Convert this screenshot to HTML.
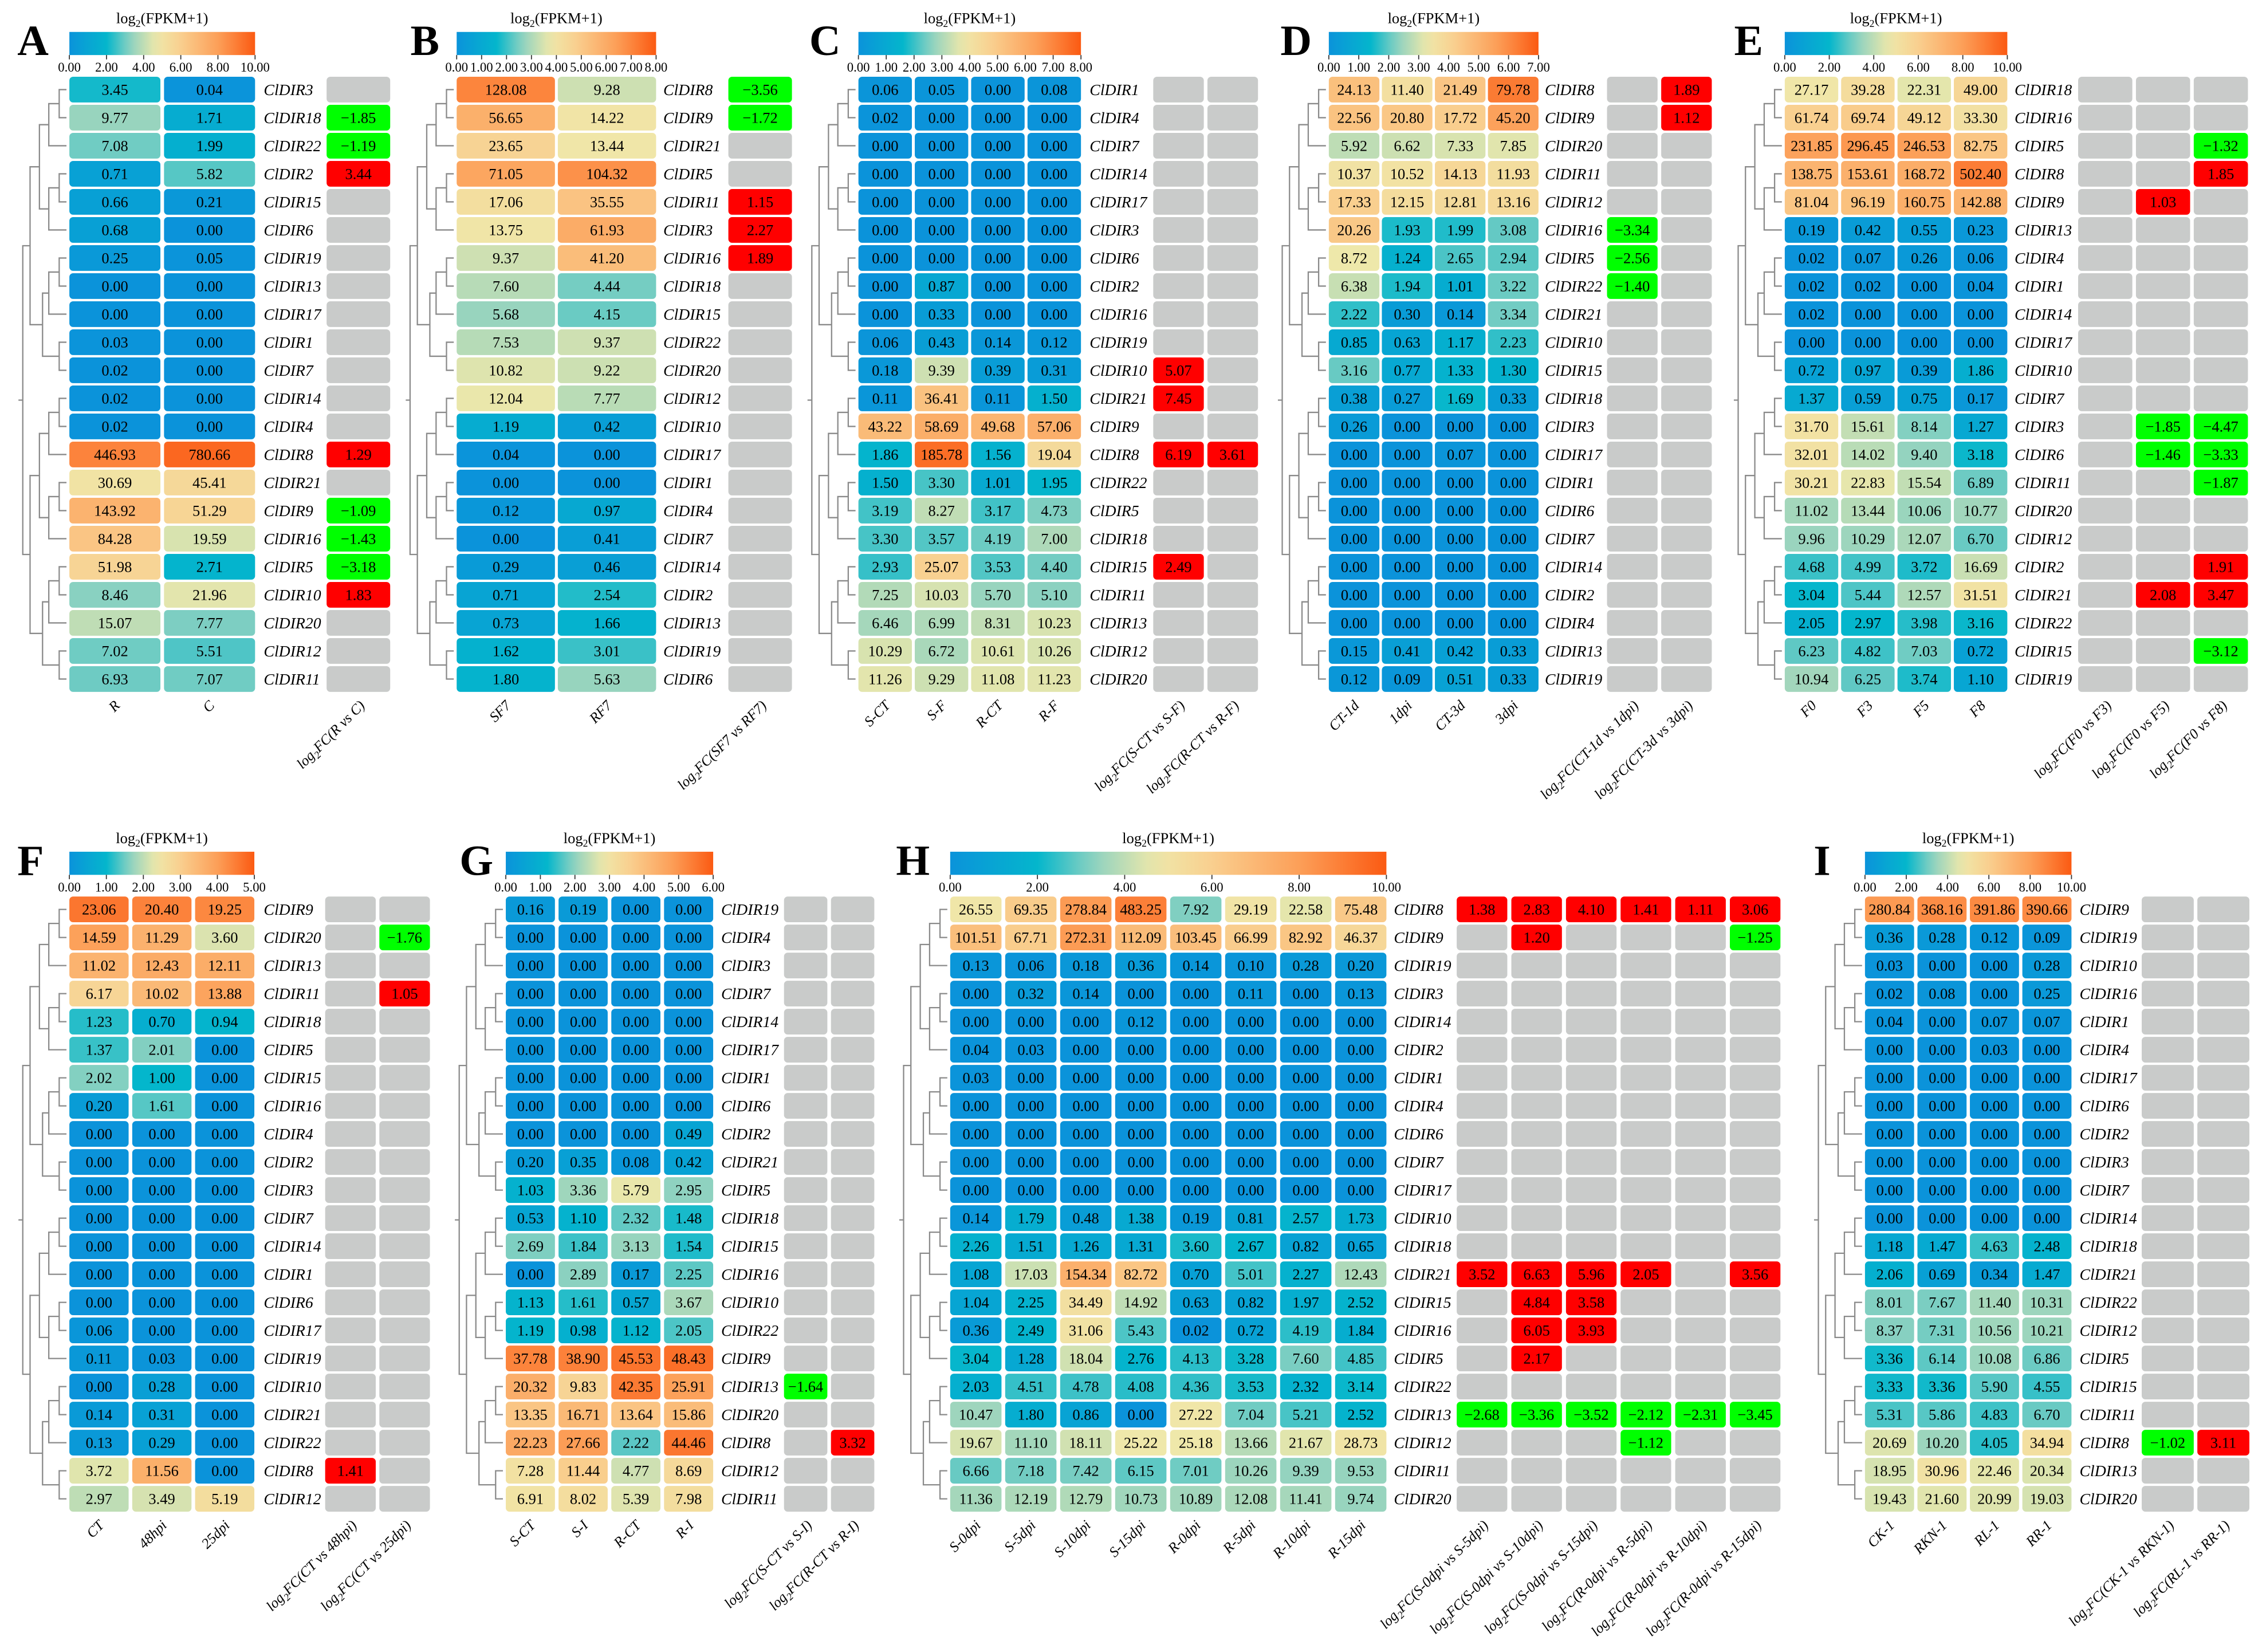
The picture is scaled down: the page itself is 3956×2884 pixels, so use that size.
<!DOCTYPE html>
<html><head><meta charset="utf-8"><style>
html,body{margin:0;padding:0;background:#fff;}
svg{display:block;}
text{font-family:"Liberation Serif","Times New Roman",serif;}
</style></head><body>
<svg id="fig" xmlns="http://www.w3.org/2000/svg" width="3956" height="2884" viewBox="0 0 1568 1143" preserveAspectRatio="none"></svg>
<script>
// ---------- Panel A ----------
const panelA_samples=["R","C"];
const panelA_genes=["ClDIR3","ClDIR18","ClDIR22","ClDIR2","ClDIR15","ClDIR6","ClDIR19","ClDIR13","ClDIR17","ClDIR1","ClDIR7","ClDIR14","ClDIR4","ClDIR8","ClDIR21","ClDIR9","ClDIR16","ClDIR5","ClDIR10","ClDIR20","ClDIR12","ClDIR11"];
const panelA_values=[[3.45,0.04],[9.77,1.71],[7.08,1.99],[0.71,5.82],[0.66,0.21],[0.68,0.00],[0.25,0.05],[0,0],[0,0],[0.03,0],[0.02,0],[0.02,0],[0.02,0],[446.93,780.66],[30.69,45.41],[143.92,51.29],[84.28,19.59],[51.98,2.71],[8.46,21.96],[15.07,7.77],[7.02,5.51],[6.93,7.07]];
const panelA_fcLabels=["R vs C"];
const panelA_fc=[[null],[-1.85],[-1.19],[3.44],[null],[null],[null],[null],[null],[null],[null],[null],[null],[1.29],[null],[-1.09],[-1.43],[-3.18],[1.83],[null],[null],[null]];
const panelA_ticks=["0.00","2.00","4.00","6.00","8.00","10.00"];
// ---------- Panel B ----------
const panelB_samples=["SF7","RF7"];
const panelB_genes=["ClDIR8","ClDIR9","ClDIR21","ClDIR5","ClDIR11","ClDIR3","ClDIR16","ClDIR18","ClDIR15","ClDIR22","ClDIR20","ClDIR12","ClDIR10","ClDIR17","ClDIR1","ClDIR4","ClDIR7","ClDIR14","ClDIR2","ClDIR13","ClDIR19","ClDIR6"];
const panelB_values=[[128.08,9.28],[56.65,14.22],[23.65,13.44],[71.05,104.32],[17.06,35.55],[13.75,61.93],[9.37,41.20],[7.60,4.44],[5.68,4.15],[7.53,9.37],[10.82,9.22],[12.04,7.77],[1.19,0.42],[0.04,0],[0,0],[0.12,0.97],[0,0.41],[0.29,0.46],[0.71,2.54],[0.73,1.66],[1.62,3.01],[1.80,5.63]];
const panelB_fcLabels=["SF7 vs RF7"];
const panelB_fc=[[-3.56],[-1.72],[null],[null],[1.15],[2.27],[1.89],[null],[null],[null],[null],[null],[null],[null],[null],[null],[null],[null],[null],[null],[null],[null]];
const panelB_ticks=["0.00","1.00","2.00","3.00","4.00","5.00","6.00","7.00","8.00"];
// ---------- Panel C ----------
const panelC_samples=["S-CT","S-F","R-CT","R-F"];
const panelC_genes=["ClDIR1","ClDIR4","ClDIR7","ClDIR14","ClDIR17","ClDIR3","ClDIR6","ClDIR2","ClDIR16","ClDIR19","ClDIR10","ClDIR21","ClDIR9","ClDIR8","ClDIR22","ClDIR5","ClDIR18","ClDIR15","ClDIR11","ClDIR13","ClDIR12","ClDIR20"];
const panelC_values=[[0.06,0.05,0,0.08],[0.02,0,0,0],[0,0,0,0],[0,0,0,0],[0,0,0,0],[0,0,0,0],[0,0,0,0],[0,0.87,0,0],[0,0.33,0,0],[0.06,0.43,0.14,0.12],[0.18,9.39,0.39,0.31],[0.11,36.41,0.11,1.50],[43.22,58.69,49.68,57.06],[1.86,185.78,1.56,19.04],[1.50,3.30,1.01,1.95],[3.19,8.27,3.17,4.73],[3.30,3.57,4.19,7.00],[2.93,25.07,3.53,4.40],[7.25,10.03,5.70,5.10],[6.46,6.99,8.31,10.23],[10.29,6.72,10.61,10.26],[11.26,9.29,11.08,11.23]];
const panelC_fcLabels=["S-CT vs S-F","R-CT vs R-F"];
const panelC_fc=[[null,null],[null,null],[null,null],[null,null],[null,null],[null,null],[null,null],[null,null],[null,null],[null,null],[5.07,null],[7.45,null],[null,null],[6.19,3.61],[null,null],[null,null],[null,null],[2.49,null],[null,null],[null,null],[null,null],[null,null]];
const panelC_ticks=["0.00","1.00","2.00","3.00","4.00","5.00","6.00","7.00","8.00"];
// ---------- Panel D ----------
const panelD_samples=["CT-1d","1dpi","CT-3d","3dpi"];
const panelD_genes=["ClDIR8","ClDIR9","ClDIR20","ClDIR11","ClDIR12","ClDIR16","ClDIR5","ClDIR22","ClDIR21","ClDIR10","ClDIR15","ClDIR18","ClDIR3","ClDIR17","ClDIR1","ClDIR6","ClDIR7","ClDIR14","ClDIR2","ClDIR4","ClDIR13","ClDIR19"];
const panelD_values=[[24.13,11.40,21.49,79.78],[22.56,20.80,17.72,45.20],[5.92,6.62,7.33,7.85],[10.37,10.52,14.13,11.93],[17.33,12.15,12.81,13.16],[20.26,1.93,1.99,3.08],[8.72,1.24,2.65,2.94],[6.38,1.94,1.01,3.22],[2.22,0.30,0.14,3.34],[0.85,0.63,1.17,2.23],[3.16,0.77,1.33,1.30],[0.38,0.27,1.69,0.33],[0.26,0,0,0],[0,0,0.07,0],[0,0,0,0],[0,0,0,0],[0,0,0,0],[0,0,0,0],[0,0,0,0],[0,0,0,0],[0.15,0.41,0.42,0.33],[0.12,0.09,0.51,0.33]];
const panelD_fcLabels=["CT-1d vs 1dpi","CT-3d vs 3dpi"];
const panelD_fc=[[null,1.89],[null,1.12],[null,null],[null,null],[null,null],[-3.34,null],[-2.56,null],[-1.40,null],[null,null],[null,null],[null,null],[null,null],[null,null],[null,null],[null,null],[null,null],[null,null],[null,null],[null,null],[null,null],[null,null],[null,null]];
const panelD_ticks=["0.00","1.00","2.00","3.00","4.00","5.00","6.00","7.00"];
// ---------- Panel E ----------
const panelE_samples=["F0","F3","F5","F8"];
const panelE_genes=["ClDIR18","ClDIR16","ClDIR5","ClDIR8","ClDIR9","ClDIR13","ClDIR4","ClDIR1","ClDIR14","ClDIR17","ClDIR10","ClDIR7","ClDIR3","ClDIR6","ClDIR11","ClDIR20","ClDIR12","ClDIR2","ClDIR21","ClDIR22","ClDIR15","ClDIR19"];
const panelE_values=[[27.17,39.28,22.31,49.00],[61.74,69.74,49.12,33.30],[231.85,296.45,246.53,82.75],[138.75,153.61,168.72,502.40],[81.04,96.19,160.75,142.88],[0.19,0.42,0.55,0.23],[0.02,0.07,0.26,0.06],[0.02,0.02,0,0.04],[0.02,0,0,0],[0,0,0,0],[0.72,0.97,0.39,1.86],[1.37,0.59,0.75,0.17],[31.70,15.61,8.14,1.27],[32.01,14.02,9.40,3.18],[30.21,22.83,15.54,6.89],[11.02,13.44,10.06,10.77],[9.96,10.29,12.07,6.70],[4.68,4.99,3.72,16.69],[3.04,5.44,12.57,31.51],[2.05,2.97,3.98,3.16],[6.23,4.82,7.03,0.72],[10.94,6.25,3.74,1.10]];
const panelE_fcLabels=["F0 vs F3","F0 vs F5","F0 vs F8"];
const panelE_fc=[[null,null,null],[null,null,null],[null,null,-1.32],[null,null,1.85],[null,1.03,null],[null,null,null],[null,null,null],[null,null,null],[null,null,null],[null,null,null],[null,null,null],[null,null,null],[null,-1.85,-4.47],[null,-1.46,-3.33],[null,null,-1.87],[null,null,null],[null,null,null],[null,null,1.91],[null,2.08,3.47],[null,null,null],[null,null,-3.12],[null,null,null]];
const panelE_ticks=["0.00","2.00","4.00","6.00","8.00","10.00"];
// ---------- Panel F ----------
const panelF_samples=["CT","48hpi","25dpi"];
const panelF_genes=["ClDIR9","ClDIR20","ClDIR13","ClDIR11","ClDIR18","ClDIR5","ClDIR15","ClDIR16","ClDIR4","ClDIR2","ClDIR3","ClDIR7","ClDIR14","ClDIR1","ClDIR6","ClDIR17","ClDIR19","ClDIR10","ClDIR21","ClDIR22","ClDIR8","ClDIR12"];
const panelF_values=[[23.06,20.40,19.25],[14.59,11.29,3.60],[11.02,12.43,12.11],[6.17,10.02,13.88],[1.23,0.70,0.94],[1.37,2.01,0],[2.02,1.00,0],[0.20,1.61,0],[0,0,0],[0,0,0],[0,0,0],[0,0,0],[0,0,0],[0,0,0],[0,0,0],[0.06,0,0],[0.11,0.03,0],[0,0.28,0],[0.14,0.31,0],[0.13,0.29,0],[3.72,11.56,0],[2.97,3.49,5.19]];
const panelF_fcLabels=["CT vs 48hpi","CT vs 25dpi"];
const panelF_fc=[[null,null],[null,-1.76],[null,null],[null,1.05],[null,null],[null,null],[null,null],[null,null],[null,null],[null,null],[null,null],[null,null],[null,null],[null,null],[null,null],[null,null],[null,null],[null,null],[null,null],[null,null],[1.41,null],[null,null]];
const panelF_ticks=["0.00","1.00","2.00","3.00","4.00","5.00"];
// ---------- Panel G ----------
const panelG_samples=["S-CT","S-I","R-CT","R-I"];
const panelG_genes=["ClDIR19","ClDIR4","ClDIR3","ClDIR7","ClDIR14","ClDIR17","ClDIR1","ClDIR6","ClDIR2","ClDIR21","ClDIR5","ClDIR18","ClDIR15","ClDIR16","ClDIR10","ClDIR22","ClDIR9","ClDIR13","ClDIR20","ClDIR8","ClDIR12","ClDIR11"];
const panelG_values=[[0.16,0.19,0,0],[0,0,0,0],[0,0,0,0],[0,0,0,0],[0,0,0,0],[0,0,0,0],[0,0,0,0],[0,0,0,0],[0,0,0,0.49],[0.20,0.35,0.08,0.42],[1.03,3.36,5.79,2.95],[0.53,1.10,2.32,1.48],[2.69,1.84,3.13,1.54],[0,2.89,0.17,2.25],[1.13,1.61,0.57,3.67],[1.19,0.98,1.12,2.05],[37.78,38.90,45.53,48.43],[20.32,9.83,42.35,25.91],[13.35,16.71,13.64,15.86],[22.23,27.66,2.22,44.46],[7.28,11.44,4.77,8.69],[6.91,8.02,5.39,7.98]];
const panelG_fcLabels=["S-CT vs S-I","R-CT vs R-I"];
const panelG_fc=[[null,null],[null,null],[null,null],[null,null],[null,null],[null,null],[null,null],[null,null],[null,null],[null,null],[null,null],[null,null],[null,null],[null,null],[null,null],[null,null],[null,null],[-1.64,null],[null,null],[null,3.32],[null,null],[null,null]];
const panelG_ticks=["0.00","1.00","2.00","3.00","4.00","5.00","6.00"];
// ---------- Panel H ----------
const panelH_samples=["S-0dpi","S-5dpi","S-10dpi","S-15dpi","R-0dpi","R-5dpi","R-10dpi","R-15dpi"];
const panelH_genes=["ClDIR8","ClDIR9","ClDIR19","ClDIR3","ClDIR14","ClDIR2","ClDIR1","ClDIR4","ClDIR6","ClDIR7","ClDIR17","ClDIR10","ClDIR18","ClDIR21","ClDIR15","ClDIR16","ClDIR5","ClDIR22","ClDIR13","ClDIR12","ClDIR11","ClDIR20"];
const panelH_values=[[26.55,69.35,278.84,483.25,7.92,29.19,22.58,75.48],[101.51,67.71,272.31,112.09,103.45,66.99,82.92,46.37],[0.13,0.06,0.18,0.36,0.14,0.10,0.28,0.20],[0,0.32,0.14,0,0,0.11,0,0.13],[0,0,0,0.12,0,0,0,0],[0.04,0.03,0,0,0,0,0,0],[0.03,0,0,0,0,0,0,0],[0,0,0,0,0,0,0,0],[0,0,0,0,0,0,0,0],[0,0,0,0,0,0,0,0],[0,0,0,0,0,0,0,0],[0.14,1.79,0.48,1.38,0.19,0.81,2.57,1.73],[2.26,1.51,1.26,1.31,3.60,2.67,0.82,0.65],[1.08,17.03,154.34,82.72,0.70,5.01,2.27,12.43],[1.04,2.25,34.49,14.92,0.63,0.82,1.97,2.52],[0.36,2.49,31.06,5.43,0.02,0.72,4.19,1.84],[3.04,1.28,18.04,2.76,4.13,3.28,7.60,4.85],[2.03,4.51,4.78,4.08,4.36,3.53,2.32,3.14],[10.47,1.80,0.86,0,27.22,7.04,5.21,2.52],[19.67,11.10,18.11,25.22,25.18,13.66,21.67,28.73],[6.66,7.18,7.42,6.15,7.01,10.26,9.39,9.53],[11.36,12.19,12.79,10.73,10.89,12.08,11.41,9.74]];
const panelH_fcLabels=["S-0dpi vs S-5dpi","S-0dpi vs S-10dpi","S-0dpi vs S-15dpi","R-0dpi vs R-5dpi","R-0dpi vs R-10dpi","R-0dpi vs R-15dpi"];
const panelH_fc=[[1.38,2.83,4.10,1.41,1.11,3.06],[null,1.20,null,null,null,-1.25],[null,null,null,null,null,null],[null,null,null,null,null,null],[null,null,null,null,null,null],[null,null,null,null,null,null],[null,null,null,null,null,null],[null,null,null,null,null,null],[null,null,null,null,null,null],[null,null,null,null,null,null],[null,null,null,null,null,null],[null,null,null,null,null,null],[null,null,null,null,null,null],[3.52,6.63,5.96,2.05,null,3.56],[null,4.84,3.58,null,null,null],[null,6.05,3.93,null,null,null],[null,2.17,null,null,null,null],[null,null,null,null,null,null],[-2.68,-3.36,-3.52,-2.12,-2.31,-3.45],[null,null,null,-1.12,null,null],[null,null,null,null,null,null],[null,null,null,null,null,null]];
const panelH_ticks=["0.00","2.00","4.00","6.00","8.00","10.00"];
// ---------- Panel I ----------
const panelI_samples=["CK-1","RKN-1","RL-1","RR-1"];
const panelI_genes=["ClDIR9","ClDIR19","ClDIR10","ClDIR16","ClDIR1","ClDIR4","ClDIR17","ClDIR6","ClDIR2","ClDIR3","ClDIR7","ClDIR14","ClDIR18","ClDIR21","ClDIR22","ClDIR12","ClDIR5","ClDIR15","ClDIR11","ClDIR8","ClDIR13","ClDIR20"];
const panelI_values=[[280.84,368.16,391.86,390.66],[0.36,0.28,0.12,0.09],[0.03,0,0,0.28],[0.02,0.08,0,0.25],[0.04,0,0.07,0.07],[0,0,0.03,0],[0,0,0,0],[0,0,0,0],[0,0,0,0],[0,0,0,0],[0,0,0,0],[0,0,0,0],[1.18,1.47,4.63,2.48],[2.06,0.69,0.34,1.47],[8.01,7.67,11.40,10.31],[8.37,7.31,10.56,10.21],[3.36,6.14,10.08,6.86],[3.33,3.36,5.90,4.55],[5.31,5.86,4.83,6.70],[20.69,10.20,4.05,34.94],[18.95,30.96,22.46,20.34],[19.43,21.60,20.99,19.03]];
const panelI_fcLabels=["CK-1 vs RKN-1","RL-1 vs RR-1"];
const panelI_fc=[[null,null],[null,null],[null,null],[null,null],[null,null],[null,null],[null,null],[null,null],[null,null],[null,null],[null,null],[null,null],[null,null],[null,null],[null,null],[null,null],[null,null],[null,null],[null,null],[-1.02,3.11],[null,null],[null,null]];
const panelI_ticks=["0.00","2.00","4.00","6.00","8.00","10.00"];

const NS="http://www.w3.org/2000/svg";
const svg=document.getElementById('fig');
const ROWP=19.42, CELLH=17.8;
const stops=[[0,[11,147,218]],[0.2,[4,182,204]],[0.33,[143,210,192]],[0.47,[239,232,170]],[0.6,[249,207,143]],[0.8,[252,159,88]],[1,[251,90,18]]];
function colorFor(t){
  t=Math.max(0,Math.min(1,t));
  for(let i=1;i<stops.length;i++){
    if(t<=stops[i][0]){
      const a=stops[i-1],b=stops[i],f=(t-a[0])/(b[0]-a[0]);
      const c=a[1].map((v,k)=>Math.round(v+(b[1][k]-v)*f));
      return 'rgb('+c.join(',')+')';
    }
  }
  return 'rgb(251,90,18)';
}
function mk(tag,attrs,parent){
  const e=document.createElementNS(NS,tag);
  for(const k in attrs) e.setAttribute(k,attrs[k]);
  (parent||svg).appendChild(e);
  return e;
}
function fmt(v){return (v<0?'\u2212':'')+Math.abs(v).toFixed(2);}
function drawPanel(p){
  const g=mk('g',{});
  
  
  const n=p.samples.length;
  const rows=p.genes.length;
  const cbX0=p.x0, cbX1=p.x0+(n-1)*p.pitch+p.w;
  const y0=p.y0;
  const cellX=j=>p.x0+j*p.pitch;
  const rowY=i=>y0+i*ROWP;
  const maxV=parseFloat(p.ticks[p.ticks.length-1]);
  const scale=v=>Math.log2(v+1)/maxV;
  const L=mk('text',{x:p.lx,y:y0-15,'font-size':30,'font-weight':'bold',fill:'#000'},g);
  L.textContent=p.letter;
  
  
  const gid='grad'+p.letter;
  const defs=mk('defs',{},g);
  const lg=mk('linearGradient',{id:gid,x1:0,y1:0,x2:1,y2:0},defs);
  for(let k=0;k<=20;k++){mk('stop',{offset:(k/20),'stop-color':colorFor(k/20)},lg);}
  const cb=mk('rect',{x:cbX0,y:y0-31,width:cbX1-cbX0,height:16,fill:'url(#'+gid+')'},g);
  
  
  const tt=mk('text',{x:(cbX0+cbX1)/2,y:y0-37,'font-size':10.5,'text-anchor':'middle'},g);
  
  
  tt.innerHTML='log<tspan font-size="7" dy="2.5">2</tspan><tspan dy="-2.5">(FPKM+1)</tspan>';
  p.ticks.forEach((t,k)=>{
    const tx=cbX0+(cbX1-cbX0)*k/(p.ticks.length-1);
    mk('line',{x1:tx,x2:tx,y1:y0-15,y2:y0-12,stroke:'#333','stroke-width':0.7},g);
    const tl=mk('text',{x:tx,y:y0-3.5,'font-size':9,'text-anchor':'middle'},g);
    tl.textContent=t;
    
    
  });
  p.values.forEach((row,i)=>{
    row.forEach((v,j)=>{
      const r=mk('rect',{x:cellX(j),y:rowY(i),width:p.w,height:CELLH,rx:2.6,fill:colorFor(scale(v))},g);
      
      
      const t=mk('text',{x:cellX(j)+p.w/2,y:rowY(i)+CELLH/2+3.6,'font-size':10.5,'text-anchor':'middle'},g);
      t.textContent=v.toFixed(2);
      
      
    });
    const gl=mk('text',{x:p.lab,y:rowY(i)+CELLH/2+3.8,'font-size':11,'font-style':'italic'},g);
    gl.textContent=p.genes[i];
    
    
  });
  p.fc.forEach((row,i)=>{
    row.forEach((v,j)=>{
      const fx=p.fx+j*p.fp;
      const fill=v===null?'#c9cbca':(v>0?'#ff0000':'#00ff00');
      const r=mk('rect',{x:fx,y:rowY(i),width:p.fw,height:CELLH,rx:2.6,fill:fill},g);
      
      
      if(v!==null){
        const t=mk('text',{x:fx+p.fw/2,y:rowY(i)+CELLH/2+3.6,'font-size':10.5,'text-anchor':'middle'},g);
        t.textContent=fmt(v);
        
        
      }
    });
  });
  const yb=rowY(rows-1)+CELLH+10;
  p.samples.forEach((s,j)=>{
    const cx=cellX(j)+p.w/2+4;
    const t=mk('text',{x:cx,y:yb,'font-size':10,'font-style':'italic','text-anchor':'end',transform:'rotate(-45 '+cx+' '+yb+')'},g);
    t.textContent=s;
    
    
  });
  p.fcLabels.forEach((s,j)=>{
    const cx=p.fx+j*p.fp+p.fw/2+5;
    const t=mk('text',{x:cx,y:yb,'font-size':10,'font-style':'italic','text-anchor':'end',transform:'rotate(-45 '+cx+' '+yb+')'},g);
    t.innerHTML='log<tspan font-size="7" dy="2.5">2</tspan><tspan dy="-2.5">FC('+s+')</tspan>';
    
    
  });
  const dg=mk('g',{stroke:'#8a8a8a','stroke-width':0.9,fill:'none'},g);
  
  
  const right=p.x0-2, left=p.x0-44;
  function depth(lo,hi){return hi-lo<=1?0:1+Math.max(depth(lo,lo+Math.ceil((hi-lo)/2)),depth(lo+Math.ceil((hi-lo)/2),hi));}
  const D=depth(0,rows), step=(right-left-6)/D;
  function build(lo,hi){
    if(hi-lo===1) return {x:right,y:rowY(lo)+CELLH/2};
    const m=lo+Math.ceil((hi-lo)/2);
    const a=build(lo,m), b=build(m,hi);
    const x=Math.min(a.x,b.x)-step*(0.6+((lo*7+hi*3)%5)/10);
    mk('path',{d:'M'+a.x+' '+a.y+'H'+x+'V'+b.y+'H'+b.x},dg);
    return {x:x,y:(a.y+b.y)/2};
  }
  const root=build(0,rows);
  mk('path',{d:'M'+root.x+' '+root.y+'H'+(root.x-3)},dg);
}
const TOP=53.1, BOT=620.3;
drawPanel({letter:'A',lx:12,y0:TOP,x0:48,pitch:65.5,w:63,lab:182.5,fx:226,fp:44,fw:44,samples:panelA_samples,genes:panelA_genes,values:panelA_values,fc:panelA_fc,fcLabels:panelA_fcLabels,ticks:panelA_ticks});
drawPanel({letter:'B',lx:284,y0:TOP,x0:316,pitch:70,w:68,lab:459,fx:504,fp:44,fw:44,samples:panelB_samples,genes:panelB_genes,values:panelB_values,fc:panelB_fc,fcLabels:panelB_fcLabels,ticks:panelB_ticks});
drawPanel({letter:'C',lx:560,y0:TOP,x0:594,pitch:39,w:37,lab:754,fx:798,fp:37.5,fw:35,samples:panelC_samples,genes:panelC_genes,values:panelC_values,fc:panelC_fc,fcLabels:panelC_fcLabels,ticks:panelC_ticks});
drawPanel({letter:'D',lx:886,y0:TOP,x0:919.5,pitch:36.7,w:35,lab:1069,fx:1112,fp:37.5,fw:35,samples:panelD_samples,genes:panelD_genes,values:panelD_values,fc:panelD_fc,fcLabels:panelD_fcLabels,ticks:panelD_ticks});
drawPanel({letter:'E',lx:1200,y0:TOP,x0:1235,pitch:39,w:37,lab:1394,fx:1438,fp:40,fw:37.5,samples:panelE_samples,genes:panelE_genes,values:panelE_values,fc:panelE_fc,fcLabels:panelE_fcLabels,ticks:panelE_ticks});
drawPanel({letter:'F',lx:12,y0:BOT,x0:48,pitch:43.5,w:41,lab:182.5,fx:225,fp:37.5,fw:35,samples:panelF_samples,genes:panelF_genes,values:panelF_values,fc:panelF_fc,fcLabels:panelF_fcLabels,ticks:panelF_ticks});
drawPanel({letter:'G',lx:318,y0:BOT,x0:350,pitch:36.5,w:34,lab:499,fx:542.5,fp:32.5,fw:30,samples:panelG_samples,genes:panelG_genes,values:panelG_values,fc:panelG_fc,fcLabels:panelG_fcLabels,ticks:panelG_ticks});
drawPanel({letter:'H',lx:620,y0:BOT,x0:657.5,pitch:38.05,w:35.5,lab:964.5,fx:1008,fp:37.8,fw:35,samples:panelH_samples,genes:panelH_genes,values:panelH_values,fc:panelH_fc,fcLabels:panelH_fcLabels,ticks:panelH_ticks});
drawPanel({letter:'I',lx:1255,y0:BOT,x0:1290.5,pitch:36.3,w:34,lab:1439,fx:1482,fp:38.5,fw:36,samples:panelI_samples,genes:panelI_genes,values:panelI_values,fc:panelI_fc,fcLabels:panelI_fcLabels,ticks:panelI_ticks});
</script>
</body></html>
